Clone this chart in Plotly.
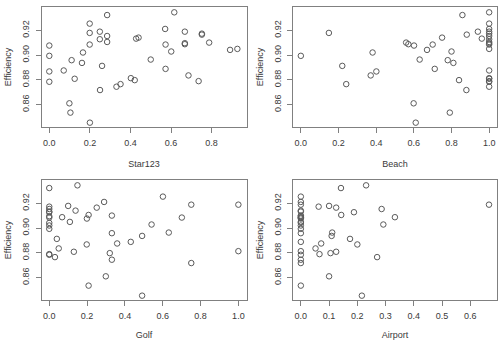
import plotly.graph_objects as go

efficiency = [0.9345, 0.9323, 0.9254, 0.9211, 0.9189, 0.9189, 0.9179, 0.9173, 0.9165, 0.9154,
              0.9141, 0.9133, 0.9128, 0.9106, 0.9101, 0.9096, 0.9088, 0.9085, 0.9085, 0.9077,
              0.9050, 0.9042, 0.9029, 0.9021, 0.8994, 0.8964, 0.8959, 0.8937, 0.8913, 0.8889,
              0.8876, 0.8868, 0.8836, 0.8814, 0.8809, 0.8798, 0.8790, 0.8785, 0.8766, 0.8745,
              0.8718, 0.8611, 0.8536, 0.8455]
star123 = [0.616, 0.285, 0.199, 0.571, 0.249, 0.668, 0.199, 0.752, 0.752, 0.285,
           0.440, 0.428, 0.249, 0.285, 0.788, 0.668, 0.668, 0.199, 0.573, 0.0,
           0.927, 0.891, 0.601, 0.166, 0.0, 0.500, 0.110, 0.161, 0.260, 0.573,
           0.071, 0.0, 0.686, 0.402, 0.125, 0.421, 0.736, 0.0, 0.351, 0.331,
           0.250, 0.099, 0.104, 0.200]
beach = [1.0, 0.858, 1.0, 1.0, 0.940, 1.0, 0.149, 1.0, 0.881, 1.0,
         0.750, 0.961, 1.0, 1.0, 0.559, 1.0, 0.571, 0.700, 1.0, 0.601,
         1.0, 0.670, 0.800, 0.381, 0.0, 0.631, 0.780, 0.810, 0.220, 0.711,
         1.0, 0.401, 0.371, 1.0, 1.0, 0.840, 1.0, 1.0, 0.241, 1.0,
         0.879, 0.599, 0.791, 0.610]
golf = [0.149, 0.0, 0.601, 0.290, 0.751, 1.0, 0.100, 0.0, 0.251, 0.0,
        0.139, 0.0, 0.0, 0.208, 0.331, 0.0, 0.068, 0.701, 0.0, 0.199,
        0.109, 0.0, 0.541, 0.0, 0.0, 0.632, 0.331, 0.491, 0.040, 0.431,
        0.359, 0.198, 0.050, 1.0, 0.130, 0.320, 0.0, 0.0, 0.030, 0.331,
        0.751, 0.299, 0.208, 0.491]
airport = [0.231, 0.142, 0.0, 0.0, 0.666, 0.0, 0.100, 0.063, 0.125, 0.286,
           0.0, 0.0, 0.188, 0.143, 0.0, 0.0, 0.333, 0.0, 0.0, 0.0,
           0.0, 0.0, 0.292, 0.0, 0.0, 0.111, 0.0, 0.109, 0.174, 0.0,
           0.072, 0.200, 0.052, 0.0, 0.125, 0.105, 0.066, 0.0, 0.270, 0.0,
           0.0, 0.100, 0.0, 0.216]

panels = [
    ("Star123", star123, [-0.0375, 0.972], [0, 0.2, 0.4, 0.6, 0.8]),
    ("Beach", beach, [-0.04, 1.04], [0, 0.2, 0.4, 0.6, 0.8, 1.0]),
    ("Golf", golf, [-0.04, 1.043], [0, 0.2, 0.4, 0.6, 0.8, 1.0]),
    ("Airport", airport, [-0.0267, 0.6933], [0, 0.1, 0.2, 0.3, 0.4, 0.5, 0.6]),
]
y_ticks = [0.86, 0.88, 0.90, 0.92]
y_range = [0.8420, 0.9388]

W, H = 501, 340
xdoms = [[41.7 / W, 246.5 / W], [293.3 / W, 496.7 / W]]
ydoms = [[1 - 127 / H, 1 - 7 / H], [1 - 300 / H, 1 - 180 / H]]

font_family = "Liberation Sans, Arial, Helvetica, sans-serif"
text_col = "#3a3a3a"
line_col = "#808080"

fig = go.Figure()
layout = dict(
    width=W, height=H,
    margin=dict(l=0, r=0, t=0, b=0),
    paper_bgcolor="white", plot_bgcolor="white",
    showlegend=False,
    font=dict(family=font_family, size=9, color=text_col),
)

for i, (name, xs, xr, xt) in enumerate(panels):
    row, col = divmod(i, 2)
    n = "" if i == 0 else str(i + 1)
    fig.add_trace(go.Scatter(
        x=xs, y=efficiency, mode="markers",
        marker=dict(symbol="circle-open", size=5.5, color="#5a5a5a", line=dict(width=1, color="#5a5a5a")),
        xaxis="x" + n, yaxis="y" + n, hoverinfo="skip",
    ))
    layout["xaxis" + n] = dict(
        domain=xdoms[col], anchor="y" + n, range=xr,
        tickvals=xt, tickformat=".1f",
        showgrid=False, zeroline=False,
        showline=True, mirror=True, linecolor=line_col, linewidth=1,
        ticks="outside", ticklen=5, tickcolor=line_col, tickwidth=1,
        ticklabelstandoff=2,
        tickfont=dict(size=9, color=text_col),
        title=dict(text=name, standoff=13, font=dict(size=9, color=text_col)),
    )
    layout["yaxis" + n] = dict(
        domain=ydoms[row], anchor="x" + n, range=y_range,
        tickvals=y_ticks, tickformat=".2f", tickangle=-90,
        showgrid=False, zeroline=False,
        showline=True, mirror=True, linecolor=line_col, linewidth=1,
        ticks="outside", ticklen=5, tickcolor=line_col, tickwidth=1,
        ticklabelstandoff=3,
        tickfont=dict(size=9, color=text_col),
        title=dict(text="Efficiency", standoff=7, font=dict(size=9, color=text_col)),
    )

fig.update_layout(**layout)
fig.write_html("out.html")
